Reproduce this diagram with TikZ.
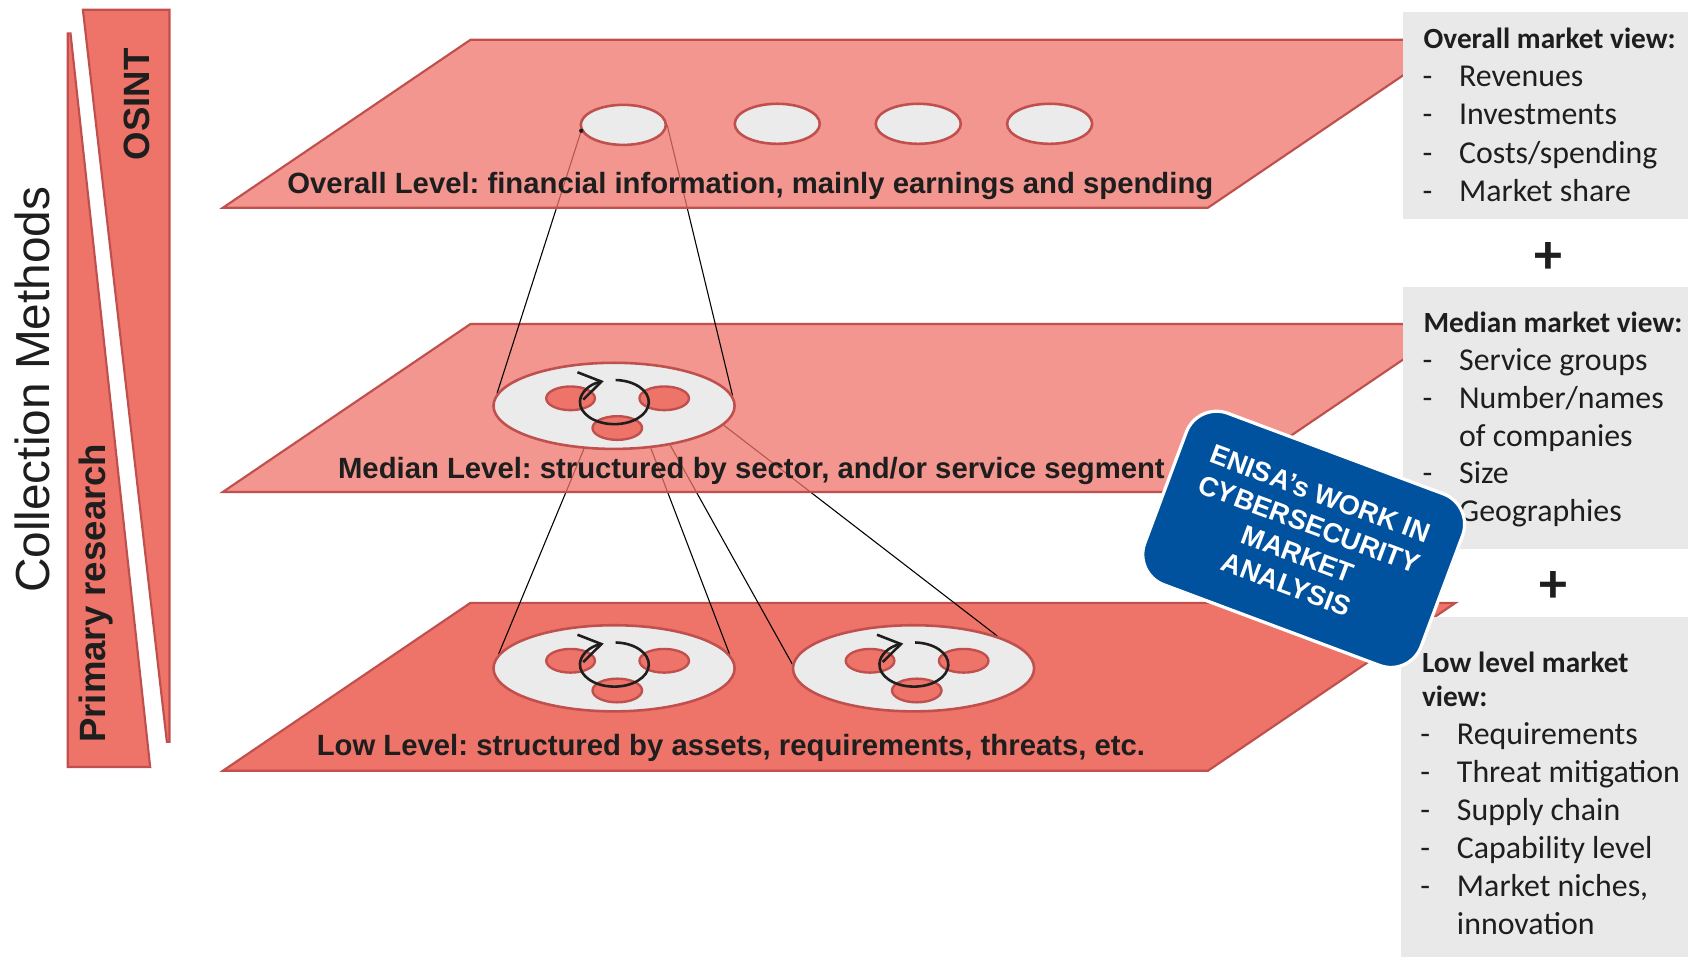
\documentclass[tikz,border=0pt]{standalone}
\usepackage{fontspec}
\setmainfont{Liberation Sans}
\newfontfamily\calibri{Carlito}
\usetikzlibrary{shapes.geometric,arrows.meta}
\frenchspacing

\definecolor{planered}{HTML}{EE7369}
\definecolor{planeedge}{HTML}{C0504D}
\definecolor{discgray}{HTML}{EBEBEB}
\definecolor{panelgray}{HTML}{E9E9E9}
\definecolor{enisablue}{HTML}{00519E}
\definecolor{inkblack}{HTML}{1E1E1E}

\pgfdeclarelayer{lowplane}
\pgfdeclarelayer{lowlinks}
\pgfdeclarelayer{midplane}
\pgfdeclarelayer{toplinks}
\pgfdeclarelayer{topplane}
\pgfsetlayers{lowplane,lowlinks,midplane,toplinks,topplane,main}

\begin{document}
\begin{tikzpicture}[x=0.5pt,y=-0.5pt,
	plane/.style={fill=planered,draw=planeedge,line width=1pt},
	upper/.style={plane,fill opacity=0.75},
	disc/.style={shape=ellipse,draw=planeedge,fill=discgray,line width=1.2pt,inner sep=0pt},
	blob/.style={draw=planeedge,fill=planered,line width=1.1pt},
	link/.style={draw=black,line width=0.5pt},
	spin/.style={draw=inkblack,line width=1.2pt,-{Straight Barb[length=10pt,width=13pt]}},
	barlabel/.style={font=\bfseries\fontsize{17}{20}\selectfont,text=inkblack,rotate=90,anchor=base,inner sep=0pt},
	levellabel/.style={font=\bfseries\fontsize{13.6}{16}\selectfont,text=inkblack,anchor=base,inner sep=0pt},
	panel/.style={fill=panelgray},
	heading/.style={font=\calibri\bfseries\fontsize{13.6}{16}\selectfont,text=inkblack,anchor=base west,inner sep=0pt},
	item/.style={font=\calibri\fontsize{14.8}{17}\selectfont,text=inkblack,anchor=base west,inner sep=0pt},
	plus/.style={font=\calibri\bfseries\fontsize{26}{30}\selectfont,text=inkblack,inner sep=0pt},
	enisa/.style={rectangle,rounded corners=15pt,fill=enisablue,draw=white,line width=1.5pt,
		minimum width=137pt,minimum height=85pt,rotate=-20.5,text=white,align=center,
		font=\bfseries\fontsize{12.7}{15}\selectfont}]

	\useasboundingbox (0,0) rectangle (1568,898);

	% collection methods
	\draw[plane] (77,9) -- (157.5,9) -- (157.5,689) -- (155,689) -- cycle;
	\draw[plane] (63,31) -- (65.5,31) -- (139.5,712.5) -- (63,712.5) -- cycle;
	\node[font=\fontsize{22.2}{26}\selectfont,text=inkblack,rotate=90,anchor=base,inner sep=0pt] (methods) at (46,362) {Collection Methods};
	\node[barlabel] (osint) at (139,97) {OSINT};
	\node[barlabel] (primary) at (97.6,551) {Primary research};

	% levels
	\begin{pgfonlayer}{lowplane}
	\draw[plane] (207,716) -- (437,560) -- (1352,560) -- (1122,716) -- cycle;
	\end{pgfonlayer}
	\begin{pgfonlayer}{midplane}
	\draw[upper] (207,457) -- (437,301) -- (1352,301) -- (1122,457) -- cycle;
	\end{pgfonlayer}
	\begin{pgfonlayer}{topplane}
	\draw[upper] (207,193) -- (437,37) -- (1352,37) -- (1122,193) -- cycle;
	\end{pgfonlayer}

	\node[levellabel] (overall) at (697,180) {Overall Level: financial information, mainly earnings and spending};
	\node[levellabel] (median) at (698,444.5) {Median Level: structured by sector, and/or service segment};
	\node[levellabel] (low) at (679,702) {Low Level: structured by assets, requirements, threats, etc.};

	\node[disc,minimum width=39.5pt,minimum height=18.6pt] (top1) at (579,116) {};
	\node[disc,minimum width=39.5pt,minimum height=18.6pt] (top2) at (722,115) {};
	\node[disc,minimum width=39.5pt,minimum height=18.6pt] (top3) at (853,115) {};
	\node[disc,minimum width=39.5pt,minimum height=18.6pt] (top4) at (975,115) {};
	\fill[inkblack] (top1.188) circle[radius=2];

	\node[disc,minimum width=112pt,minimum height=40pt] (mid) at (570.4,377) {};
	\node[disc,minimum width=112pt,minimum height=40pt] (lowa) at (570.4,620.8) {};
	\node[disc,minimum width=112pt,minimum height=40pt] (lowb) at (848.6,620.8) {};

	\foreach \d in {mid,lowa,lowb}{
		\begin{scope}[shift={(\d)}]
			\draw[blob] (-40.4,-7) ellipse[x radius=22.6,y radius=11];
			\draw[blob] (46.6,-7) ellipse[x radius=23,y radius=11];
			\draw[blob] (3,20.6) ellipse[x radius=23,y radius=11];
			\draw[spin] (0.3,-3.5) ++(-88:32 and 20.5) arc[start angle=-88,end angle=252,x radius=32,y radius=20.5];
		\end{scope}
	}

	\begin{pgfonlayer}{toplinks}
	\draw[link] (top1.188) -- (mid.174);
	\draw[link] (top1.east) -- (mid.5);
	\end{pgfonlayer}
	\begin{pgfonlayer}{lowlinks}
	\draw[link] (mid.235) -- (lowa.173);
	\draw[link] (mid.311) -- (lowa.7);
	\draw[link] (mid.325) -- (lowb.178);
	\draw[link] (mid.350) -- (lowb.21);
	\end{pgfonlayer}

	% market views
	\fill[panel] (1303,11.5) rectangle (1568,203);
	\fill[panel] (1303,267) rectangle (1568,510);
	\fill[panel] (1301,573) rectangle (1568,889);

	\node[heading] (ovhead) at (1322,45) {Overall market view:};
	\foreach \t [count=\i] in {Revenues,Investments,Costs/spending,Market share}{
		\node[item] (ovdash\i) at (1321,45+35.5*\i) {-};
		\node[item] (ovitem\i) at (1355,45+35.5*\i) {\t};
	}
	\node[plus] (plusa) at (1438,240) {+};

	\node[heading] (mdhead) at (1322,309) {Median market view:};
	\foreach \t [count=\i] in {Service groups,Number/names,of companies,Size,Geographies}{
		\ifnum\i=3\else\node[item] (mddash\i) at (1321,309+35.1*\i) {-};\fi
		\node[item] (mditem\i) at (1355,309+35.1*\i) {\t};
	}
	\node[plus] (plusb) at (1442.6,545.5) {+};

	\node[heading] (lwhead) at (1320.5,625) {Low level market};
	\node[heading] (lwview) at (1320.5,656.5) {view:};
	\foreach \t [count=\i] in {Requirements,Threat mitigation,Supply chain,Capability level,{Market niches,},innovation}{
		\ifnum\i=6\else\node[item] (lwdash\i) at (1319,656.5+35.3*\i) {-};\fi
		\node[item] (lwitem\i) at (1353,656.5+35.3*\i) {\t};
	}

	\node[enisa] (enisa) at (1211,501) {ENISA’s WORK IN\\CYBERSECURITY\\MARKET\\ANALYSIS};
\end{tikzpicture}
\end{document}
